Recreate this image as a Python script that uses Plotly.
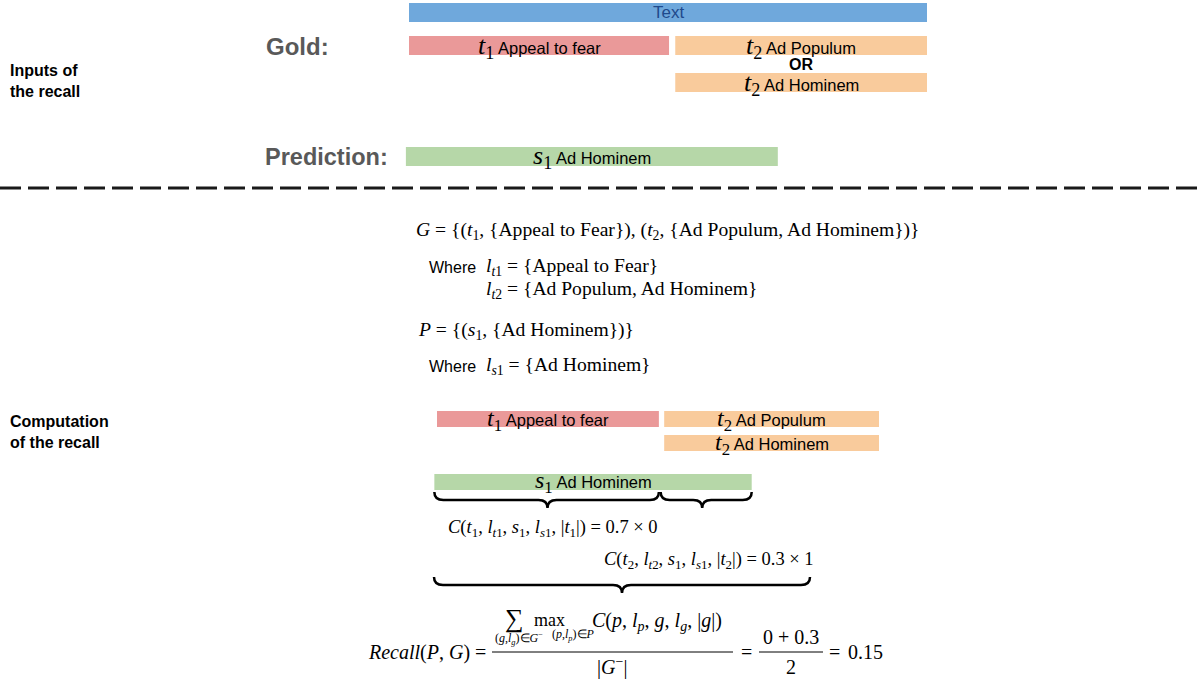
import plotly.graph_objects as go

# --- data: spans as fractions of the input text -------------------------
gold_ids = ["t", "t", "t"]
gold_idx = ["1", "2", "2"]
gold_labels = ["Appeal to fear", "Ad Populum", "Ad Hominem"]
gold_start = [0.0, 0.514, 0.514]
gold_end = [0.502, 1.0, 1.0]
gold_row = [0, 0, 1]

pred_ids = ["s"]
pred_idx = ["1"]
pred_labels = ["Ad Hominem"]
pred_start = [-0.006]
pred_end = [0.712]

overlap_share = [0.7, 0.3]
label_match = [0, 1]
n_gold = 2
recall_value = sum(w * m for w, m in zip(overlap_share, label_match)) / n_gold

# colours
TEXT_BLUE = "#6fa8dc"
RED = "#ea9999"
ORANGE = "#f9cb9c"
GREEN = "#b6d7a8"
GRAY = "#595959"

SANS = "Liberation Sans, Arial, sans-serif"
SERIF = "Liberation Serif, Times New Roman, serif"

W, H = 1203, 679
# text scale of the two diagrams (pixel origin, pixel length of the text)
TOP_X0, TOP_LEN = 409, 518
BOT_X0, BOT_LEN = 437, 442

fig = go.Figure()
for ax in ["x", "x2", "x3"]:
    fig.add_trace(go.Scatter(x=[None], y=[None], xaxis=ax, yaxis="y",
                             showlegend=False, hoverinfo="skip"))

shapes = []
annots = []


def sym(letter, idx, size=26):
    return (f'<span style="font-family:{SERIF};font-size:{size}px">'
            f'<i>{letter}</i><sub>{idx}</sub></span>')


def note(text, x, y, size=16, font=SANS, color="black", xanchor="center",
         xref="x", bold=False, align="center"):
    if bold:
        text = f"<b>{text}</b>"
    annots.append(dict(text=text, x=x, y=y, xref=xref, yref="y",
                       xanchor=xanchor, yanchor="middle", showarrow=False,
                       align=align,
                       font=dict(family=font, size=size, color=color)))


def bar(x0, x1, y0, y1, color, xref):
    shapes.append(dict(type="rect", x0=x0, x1=x1, y0=y0, y1=y1, xref=xref,
                       yref="y", fillcolor=color, line=dict(width=0),
                       layer="below"))


def brace(x0, x1, xm, y0, h, r, xref):
    ym, yb = y0 + h / 2, y0 + h
    path = (f"M {x0},{y0} Q {x0},{ym} {x0 + r},{ym} L {xm - r},{ym} "
            f"Q {xm},{ym} {xm},{yb} Q {xm},{ym} {xm + r},{ym} "
            f"L {x1 - r},{ym} Q {x1},{ym} {x1},{y0}")
    shapes.append(dict(type="path", path=path, xref=xref, yref="y",
                       line=dict(color="black", width=2.5)))


# ---------------- inputs of the recall ----------------
note("Inputs of<br>the recall", 8, 81, size=16, xanchor="left", bold=True,
     align="left")
note("Gold:", 264, 46, size=24, color=GRAY, xanchor="left", bold=True)
note("Prediction:", 263, 157, size=23.5, color=GRAY, xanchor="left", bold=True)

bar(0, 1, 3, 22, TEXT_BLUE, "x2")
note("Text", 0.5, 12.5, size=17, color="#1f4a8c", xref="x2")

row_y = [(36, 55), (73, 92)]
for i, lab in enumerate(gold_labels):
    color = RED if gold_idx[i] == "1" else ORANGE
    y0, y1 = row_y[gold_row[i]]
    bar(gold_start[i], gold_end[i], y0, y1, color, "x2")
    note(sym(gold_ids[i], gold_idx[i]) + " " + lab,
         (gold_start[i] + gold_end[i]) / 2, (y0 + y1) / 2 + 1, size=16.5,
         xref="x2")
note("OR", (gold_start[1] + gold_end[1]) / 2, 64, size=16, xref="x2", bold=True)

for i, lab in enumerate(pred_labels):
    bar(pred_start[i], pred_end[i], 147, 166, GREEN, "x2")
    note(sym(pred_ids[i], pred_idx[i]) + " " + lab,
         (pred_start[i] + pred_end[i]) / 2, 157, size=16.5, xref="x2")

shapes.append(dict(type="line", x0=0, x1=W, y0=188, y1=188, xref="x", yref="y",
                   line=dict(color="#1a1a1a", width=3, dash="21px,7px")))

# ---------------- set notation ----------------
MS = 19.6
note("<i>G</i> = {(<i>t</i><sub>1</sub>, {Appeal to Fear}), "
     "(<i>t</i><sub>2</sub>, {Ad Populum, Ad Hominem})}",
     414, 231, size=MS, font=SERIF, xanchor="left")
note("Where", 427, 267, size=16, xanchor="left")
note("<i>l</i><sub><i>t</i>1</sub> = {Appeal to Fear}", 484, 267, size=MS,
     font=SERIF, xanchor="left")
note("<i>l</i><sub><i>t</i>2</sub> = {Ad Populum, Ad Hominem}", 484, 290,
     size=MS, font=SERIF, xanchor="left")
note("<i>P</i> = {(<i>s</i><sub>1</sub>, {Ad Hominem})}", 416, 331, size=MS,
     font=SERIF, xanchor="left")
note("Where", 427, 366, size=16, xanchor="left")
note("<i>l</i><sub><i>s</i>1</sub> = {Ad Hominem}", 484, 366, size=MS,
     font=SERIF, xanchor="left")

# ---------------- computation of the recall ----------------
note("Computation<br>of the recall", 8, 432, size=16, xanchor="left",
     bold=True, align="left")

row_y2 = [(411, 427), (435, 451)]
for i, lab in enumerate(gold_labels):
    color = RED if gold_idx[i] == "1" else ORANGE
    y0, y1 = row_y2[gold_row[i]]
    bar(gold_start[i], gold_end[i], y0, y1, color, "x3")
    note(sym(gold_ids[i], gold_idx[i], 24) + " " + lab,
         (gold_start[i] + gold_end[i]) / 2, (y0 + y1) / 2 + 1, size=16.5,
         xref="x3")

for i, lab in enumerate(pred_labels):
    bar(pred_start[i], pred_end[i], 474, 490, GREEN, "x3")
    note(sym(pred_ids[i], pred_idx[i], 24) + " " + lab,
         (pred_start[i] + pred_end[i]) / 2, 482, size=16.5, xref="x3")

r3 = 9 / BOT_LEN
brace(pred_start[0], gold_end[0], 0.25, 492, 16, r3, "x3")
brace(gold_end[0] + 0.004, pred_end[0], 0.6, 492, 16, r3, "x3")

CS = 18.5
note(f"<i>C</i>(<i>t</i><sub>1</sub>, <i>l</i><sub><i>t</i>1</sub>, "
     f"<i>s</i><sub>1</sub>, <i>l</i><sub><i>s</i>1</sub>, |<i>t</i><sub>1</sub>|)"
     f" = {overlap_share[0]} × {label_match[0]}",
     446, 528, size=CS, font=SERIF, xanchor="left")
note(f"<i>C</i>(<i>t</i><sub>2</sub>, <i>l</i><sub><i>t</i>2</sub>, "
     f"<i>s</i><sub>1</sub>, <i>l</i><sub><i>s</i>1</sub>, |<i>t</i><sub>2</sub>|)"
     f" = {overlap_share[1]} × {label_match[1]}",
     602, 560, size=CS, font=SERIF, xanchor="left")

brace(434, 810, 622, 577, 16, 9, "x")

# recall formula
FS = 20
note("<i>Recall</i>(<i>P</i>, <i>G</i>) =", 488, 652, size=FS, font=SERIF,
     xanchor="right")
note("∑", 514, 618, size=26, font=SERIF)
note("max", 549, 620, size=18, font=SERIF)
note("<i>C</i>(<i>p</i>, <i>l</i><sub><i>p</i></sub>, <i>g</i>, "
     "<i>l</i><sub><i>g</i></sub>, |<i>g</i>|)", 590, 621, size=FS,
     font=SERIF, xanchor="left")
note("(<i>g</i>,<i>l</i><sub><i>g</i></sub>)∈<i>G</i><sup>−</sup>", 493, 638,
     size=12, font=SERIF, xanchor="left")
note("(<i>p</i>,<i>l</i><sub><i>p</i></sub>)∈<i>P</i>", 550, 635, size=12,
     font=SERIF, xanchor="left")
shapes.append(dict(type="line", x0=492, x1=733, y0=652, y1=652, xref="x",
                   yref="y", line=dict(color="black", width=1)))
note("|<i>G</i><sup>−</sup>|", 612, 666, size=FS, font=SERIF)
note("=", 746, 652, size=FS, font=SERIF)
note(f"{label_match[0]} + {overlap_share[1]}", 791, 637, size=FS, font=SERIF)
shapes.append(dict(type="line", x0=759, x1=823, y0=652, y1=652, xref="x",
                   yref="y", line=dict(color="black", width=1)))
note(f"{n_gold}", 791, 667, size=FS, font=SERIF)
note("=", 834, 652, size=FS, font=SERIF)
note(f"{recall_value:.2f}", 846, 652, size=FS, font=SERIF, xanchor="left")

hidden = dict(visible=False, showgrid=False, zeroline=False, fixedrange=True)
fig.update_layout(
    width=W, height=H,
    margin=dict(l=0, r=0, t=0, b=0),
    paper_bgcolor="white", plot_bgcolor="white",
    showlegend=False,
    xaxis=dict(range=[0, W], **hidden),
    xaxis2=dict(range=[-TOP_X0 / TOP_LEN, (W - TOP_X0) / TOP_LEN],
                overlaying="x", **hidden),
    xaxis3=dict(range=[-BOT_X0 / BOT_LEN, (W - BOT_X0) / BOT_LEN],
                overlaying="x", **hidden),
    yaxis=dict(range=[H, 0], **hidden),
    shapes=shapes,
    annotations=annots,
)

# drop the default page margin so the figure fills the window
fig.write_html("out.html", config={"displayModeBar": False},
               post_script="document.body.style.margin='0';"
                           "document.body.style.overflow='hidden';")
